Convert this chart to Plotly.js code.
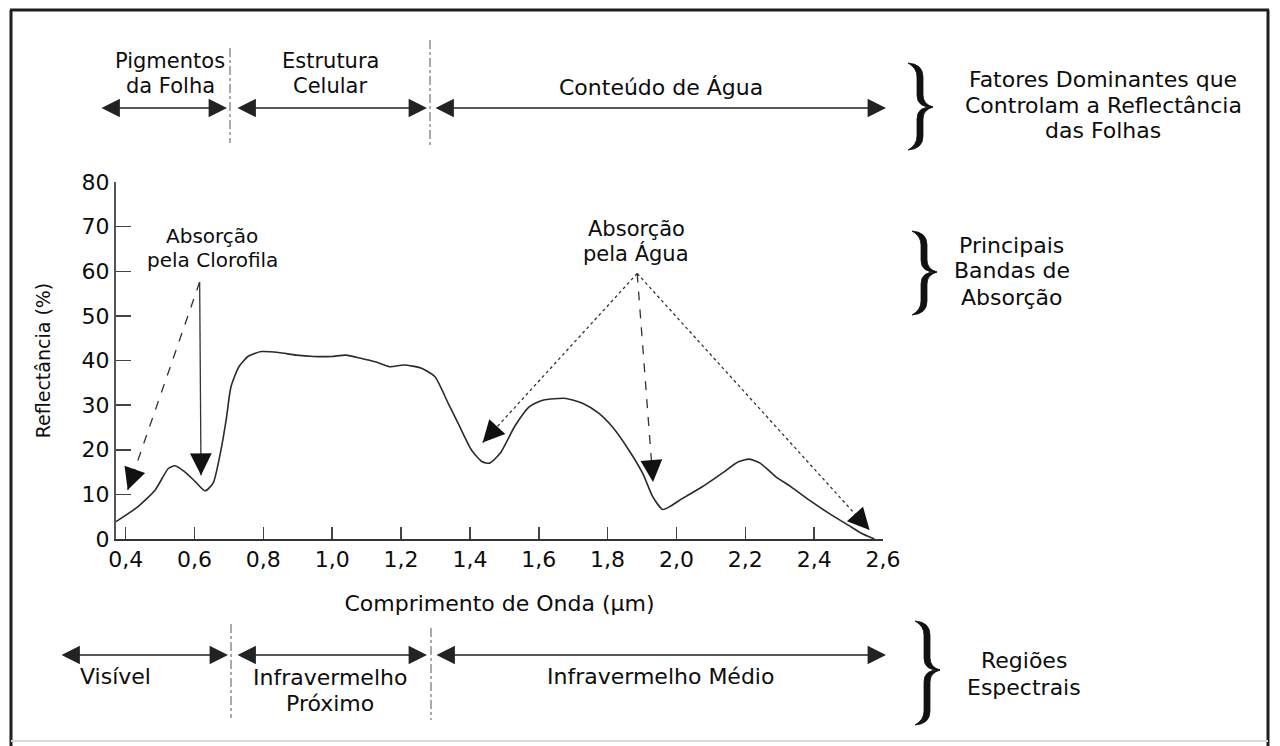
<!DOCTYPE html>
<html>
<head>
<meta charset="utf-8">
<script src="https://cdn.plot.ly/plotly-3.0.1.min.js"></script>
<style>html,body{margin:0;padding:0;background:#fff;} #chart{width:1280px;height:746px;}</style>
</head>
<body>
<div id="chart"></div>
<script>
// ---- data ----
const wavelength = [0.372, 0.435, 0.486, 0.524, 0.543, 0.571, 0.603, 0.631, 0.654, 0.675, 0.692, 0.706, 0.729, 0.757, 0.794, 0.844, 0.895, 0.946, 0.998, 1.04, 1.083, 1.125, 1.167, 1.209, 1.258, 1.298, 1.337, 1.366, 1.405, 1.436, 1.457, 1.488, 1.530, 1.572, 1.612, 1.679, 1.727, 1.774, 1.813, 1.862, 1.902, 1.931, 1.960, 1.979, 2.018, 2.075, 2.132, 2.18, 2.212, 2.243, 2.288, 2.333, 2.386, 2.442, 2.499, 2.537, 2.575];
const reflectance = [3.9, 7.2, 11.0, 15.8, 16.4, 15.1, 12.8, 10.8, 12.5, 19.2, 26.7, 34.1, 38.6, 41.0, 42.0, 41.8, 41.2, 40.9, 40.9, 41.2, 40.5, 39.7, 38.6, 39.0, 38.3, 36.4, 30.4, 25.9, 19.9, 17.3, 17.0, 19.2, 25.2, 29.6, 31.1, 31.5, 30.4, 28.2, 25.2, 19.9, 14.7, 9.5, 6.6, 7.2, 9.1, 11.7, 14.7, 17.3, 17.9, 17.0, 14.0, 11.7, 8.7, 5.8, 3.1, 1.3, 0];
const xTickVals = [0.4, 0.6, 0.8, 1.0, 1.2, 1.4, 1.6, 1.8, 2.0, 2.2, 2.4, 2.6];
const xTickText = ["0,4", "0,6", "0,8", "1,0", "1,2", "1,4", "1,6", "1,8", "2,0", "2,2", "2,4", "2,6"];
const yTickVals = [0, 10, 20, 30, 40, 50, 60, 70, 80];
const topLabels = [["Pigmentos", "da Folha"], ["Estrutura", "Celular"], ["Conteúdo de Água"]];
const bottomLabels = [["Visível"], ["Infravermelho", "Próximo"], ["Infravermelho Médio"]];
const braceLabels = [["Fatores Dominantes que", "Controlam a Reflectância", "das Folhas"], ["Principais", "Bandas de", "Absorção"], ["Regiões", "Espectrais"]];
const chlLabel = ["Absorção", "pela Clorofila"];
const waterLabel = ["Absorção", "pela Água"];
// absorption annotations: label origin and targets (wavelength, reflectance, line style)
const chlOrigin = [0.615, 57.6];
const chlTargets = [[0.406, 11.0, "dash"], [0.619, 14.3, "solid"]];
const waterOrigin = [1.886, 59.5];
const waterTargets = [[1.437, 21.6, "dot"], [1.932, 12.8, "dash"], [2.561, 2.0, "dot"]];

// ---- layout geometry ----
const W = 1280, H = 746, L = 116, R = 883, T = 182, B = 539;
const XR = [0.372, 2.6], YR = [0, 80];
const X = px => (px - L) / (R - L);
const Y = py => (B - py) / (B - T);
const dx2px = x => L + (x - XR[0]) / (XR[1] - XR[0]) * (R - L);
const dy2px = y => B - (y - YR[0]) / (YR[1] - YR[0]) * (B - T);
const FONT = "DejaVu Sans";
const TXT = "#0d0d0d";

const shapes = [];
const annotations = [];

// frame
const frame = {color: "#1e1e1e", width: 3};
shapes.push({type: "line", xref: "paper", yref: "paper", x0: X(11), x1: X(11), y0: Y(10), y1: Y(746), line: frame});
shapes.push({type: "line", xref: "paper", yref: "paper", x0: X(10), x1: X(1269), y0: Y(10), y1: Y(10), line: frame});
shapes.push({type: "line", xref: "paper", yref: "paper", x0: X(1268), x1: X(1268), y0: Y(10), y1: Y(746), line: frame});
shapes.push({type: "line", xref: "paper", yref: "paper", x0: X(11), x1: X(1268), y0: Y(741), y1: Y(741), line: {color: "#d8d8d8", width: 2}});

// dashed region separators (top and bottom bands)
const sepX = [230, 430];
[[48, 143], [40, 146]].forEach((yy, i) => {
  shapes.push({type: "line", xref: "paper", yref: "paper", x0: X(sepX[i]), x1: X(sepX[i]), y0: Y(yy[0]), y1: Y(yy[1]), line: {color: "#555", width: 1, dash: "dashdot"}});
});
[[624, 718], [628, 720]].forEach((yy, i) => {
  shapes.push({type: "line", xref: "paper", yref: "paper", x0: X(sepX[i] + 1), x1: X(sepX[i] + 1), y0: Y(yy[0]), y1: Y(yy[1]), line: {color: "#555", width: 1, dash: "dashdot"}});
});

// double-headed horizontal arrows
function dblArrow(x0, x1, y) {
  annotations.push({xref: "paper", yref: "paper", x: X(x1), y: Y(y), axref: "pixel", ayref: "pixel", ax: -(x1 - x0), ay: 0,
    text: "", showarrow: true, arrowhead: 2, startarrowhead: 2, arrowside: "end+start", arrowsize: 2.3, startarrowsize: 2.3, arrowwidth: 1.6, arrowcolor: "#222"});
}
dblArrow(100, 227, 108); dblArrow(236, 427, 108); dblArrow(434, 886, 108);
dblArrow(60, 228, 655); dblArrow(236, 427, 655); dblArrow(435, 886, 655);

function txt(lines, px, pys, size) {
  lines.forEach((s, i) => {
    annotations.push({xref: "paper", yref: "paper", x: X(px), y: Y(pys[i]), text: s, showarrow: false,
      xanchor: "center", yanchor: "middle", align: "center", font: {family: FONT, size: size, color: TXT}});
  });
}
txt(topLabels[0], 170, [61, 86], 21);
txt(topLabels[1], 330, [61, 86], 21);
txt(topLabels[2], 661, [87], 22);
txt(bottomLabels[0], 115, [676], 22);
txt(bottomLabels[1], 330, [677, 703], 22);
txt(bottomLabels[2], 660, [676], 22);
txt(braceLabels[0], 1103, [80, 105, 130], 22);
txt(braceLabels[1], 1012, [245, 270, 297], 22);
txt(braceLabels[2], 1024, [660, 687], 22);
txt(chlLabel, 212, [236, 260], 20);
txt(waterLabel, 636, [229, 253], 21);

// braces
function brace(sx, top, bot, mid) {
  const lx = sx - 12, tx = sx + 13;
  const p = (a, b) => X(a) + "," + Y(b);
  const up = "M" + p(lx, top) + " Q" + p(sx + 3, top + 1) + " " + p(sx + 3, top + 14) +
    " L" + p(sx + 3, mid - 12) + " Q" + p(sx + 3, mid - 3) + " " + p(tx, mid) +
    " Q" + p(sx - 3, mid + 1) + " " + p(sx - 3, mid - 12) +
    " L" + p(sx - 3, top + 14) + " Q" + p(sx - 3, top + 5) + " " + p(lx, top) + " Z";
  const lo = "M" + p(tx, mid) + " Q" + p(sx + 3, mid + 3) + " " + p(sx + 3, mid + 12) +
    " L" + p(sx + 3, bot - 14) + " Q" + p(sx + 3, bot - 1) + " " + p(lx, bot) +
    " Q" + p(sx - 3, bot - 5) + " " + p(sx - 3, bot - 14) +
    " L" + p(sx - 3, mid + 12) + " Q" + p(sx - 3, mid - 1) + " " + p(tx, mid) + " Z";
  [up, lo].forEach(path => shapes.push({type: "path", xref: "paper", yref: "paper", path: path, fillcolor: "#111", line: {color: "#111", width: 0.8}}));
}
brace(920, 63, 150, 107);
brace(924, 231, 315, 272);
brace(927, 621, 725, 670);

// absorption arrows: line shapes + arrowheads
function absArrow(o, t) {
  shapes.push({type: "line", xref: "x", yref: "y", x0: o[0], y0: o[1], x1: t[0], y1: t[1], line: {color: "#333", width: 1.3, dash: t[2]}});
  const vx = dx2px(t[0]) - dx2px(o[0]), vy = dy2px(t[1]) - dy2px(o[1]);
  const n = Math.hypot(vx, vy);
  annotations.push({xref: "x", yref: "y", x: t[0], y: t[1], axref: "pixel", ayref: "pixel", ax: -vx / n * 10, ay: -vy / n * 10,
    text: "", showarrow: true, arrowhead: 2, arrowsize: 2.9, arrowwidth: 1.5, arrowcolor: "#111"});
}
chlTargets.forEach(t => absArrow(chlOrigin, t));
waterTargets.forEach(t => absArrow(waterOrigin, t));

const trace = {x: wavelength, y: reflectance, type: "scatter", mode: "lines", line: {color: "#2a2a2a", width: 1.6, shape: "spline", smoothing: 0.6}, hoverinfo: "skip"};

const layout = {
  width: W, height: H,
  margin: {l: L, r: W - R, t: T, b: H - B},
  paper_bgcolor: "#fff", plot_bgcolor: "#fff",
  showlegend: false,
  xaxis: {range: XR, tickvals: xTickVals, ticktext: xTickText, ticks: "inside", ticklen: 12, tickwidth: 1.5, tickcolor: "#444",
    showline: true, linecolor: "#333", linewidth: 2, showgrid: false, zeroline: false,
    tickfont: {family: FONT, size: 22, color: TXT},
    title: {text: "Comprimento de Onda (µm)", font: {family: FONT, size: 22, color: TXT}, standoff: 24}},
  yaxis: {range: YR, tickvals: yTickVals, ticks: "inside", ticklen: 15, tickwidth: 1.5, tickcolor: "#444",
    showline: true, linecolor: "#555", linewidth: 2, showgrid: false, zeroline: false,
    tickfont: {family: FONT, size: 22, color: TXT},
    title: {text: "Reflectância (%)", font: {family: FONT, size: 19, color: TXT}, standoff: 26}},
  shapes: shapes,
  annotations: annotations
};

Plotly.newPlot("chart", [trace], layout, {staticPlot: true, displayModeBar: false});
</script>
</body>
</html>
